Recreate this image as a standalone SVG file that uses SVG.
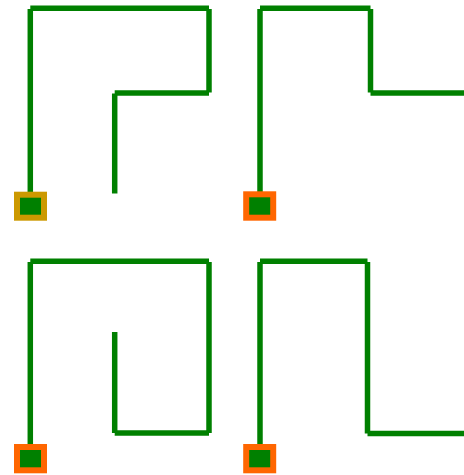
<svg xmlns="http://www.w3.org/2000/svg" width="464" height="475" viewBox="0 0 464 475">
<style>
.w{stroke:#008000;stroke-width:5.5;fill:none;stroke-linecap:butt}
.sq{fill:#008000;stroke-width:6}
.gold{stroke:#CC9900}
.org{stroke:#FF6600}
</style>
<rect width="464" height="475" fill="#fff"/>
<g id="connectors">
<g id="path1" class="w">
<line x1="30.3" y1="192" x2="30.3" y2="9"/>
<line x1="30.3" y1="8.3" x2="209" y2="8.3"/>
<line x1="209" y1="9" x2="209" y2="92.5"/>
<line x1="209" y1="93" x2="114.7" y2="93"/>
<line x1="114.7" y1="93.5" x2="114.7" y2="193.5"/>
</g>
<g id="path2" class="w">
<line x1="260" y1="192" x2="260" y2="9"/>
<line x1="260" y1="8.3" x2="370.5" y2="8.3"/>
<line x1="370.5" y1="9" x2="370.5" y2="92.5"/>
<line x1="370.5" y1="93" x2="464" y2="93"/>
</g>
<g id="path3" class="w">
<line x1="30.3" y1="444" x2="30.3" y2="262"/>
<line x1="30.3" y1="261.3" x2="209" y2="261.3"/>
<line x1="209" y1="262" x2="209" y2="433"/>
<line x1="209" y1="433" x2="114.7" y2="433"/>
<line x1="114.7" y1="433" x2="114.7" y2="332"/>
</g>
<g id="path4" class="w">
<line x1="260" y1="444" x2="260" y2="262"/>
<line x1="260" y1="261.3" x2="367.5" y2="261.3"/>
<line x1="367.5" y1="262" x2="367.5" y2="433.5"/>
<line x1="367.5" y1="433.5" x2="464" y2="433.5"/>
</g>
</g>
<g id="start1"><rect class="sq gold" x="17" y="194.7" width="27" height="23"/></g>
<g id="start2"><rect class="sq org" x="246.2" y="194.3" width="27" height="23.4"/></g>
<g id="start3"><rect class="sq org" x="17" y="447" width="27" height="23.3"/></g>
<g id="start4"><rect class="sq org" x="246.2" y="447" width="27" height="23.3"/></g>
</svg>
